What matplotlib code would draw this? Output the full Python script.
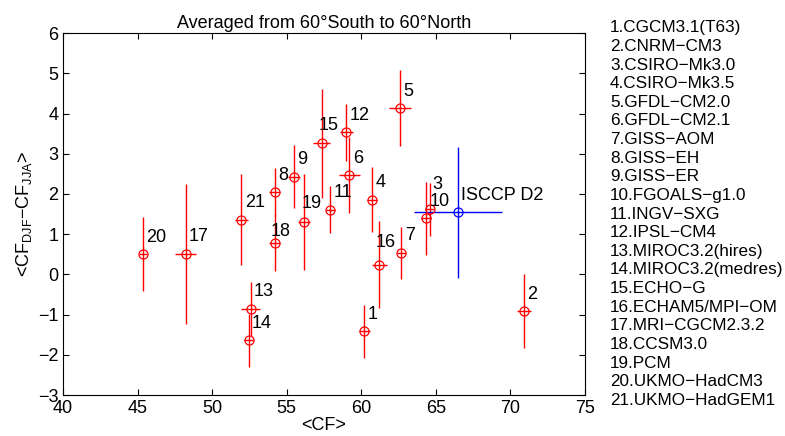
import matplotlib
matplotlib.use("Agg")
import matplotlib.pyplot as plt

plt.rcParams['font.family'] = ['Liberation Sans', 'DejaVu Sans']
plt.rcParams['mathtext.fontset'] = 'custom'
plt.rcParams['mathtext.rm'] = 'Liberation Sans'

# model values
model_ids = list(range(1, 22))
cf_mean = [60.21, 70.9, 64.59, 60.72, 62.6, 59.2, 62.69, 54.18, 55.48, 64.36, 57.93,
           59.0, 52.57, 52.44, 57.33, 61.19, 48.22, 54.18, 56.15, 45.36, 51.95]
cf_diff = [-1.41, -0.91, 1.62, 1.86, 4.14, 2.47, 0.54, 2.04, 2.43, 1.39, 1.61,
           3.53, -0.85, -1.64, 3.26, 0.24, 0.51, 0.79, 1.30, 0.50, 1.36]
cf_mean_err = [0.35, 0.47, 0.30, 0.31, 0.73, 0.72, 0.31, 0.39, 0.40, 0.33, 0.33,
               0.42, 0.61, 0.29, 0.58, 0.50, 0.69, 0.37, 0.40, 0.25, 0.42]
cf_diff_err = [0.66, 0.91, 0.66, 0.80, 0.94, 0.95, 0.65, 0.60, 0.78, 0.92, 0.59,
               0.70, 0.67, 0.66, 1.36, 1.08, 1.74, 0.70, 1.19, 0.92, 1.13]

# observations
obs_name = 'ISCCP D2'
obs_mean = 66.48
obs_diff = 1.54
obs_mean_err = 2.95
obs_diff_err = 1.62

model_names = ['CGCM3.1(T63)', 'CNRM−CM3', 'CSIRO−Mk3.0', 'CSIRO−Mk3.5', 'GFDL−CM2.0',
               'GFDL−CM2.1', 'GISS−AOM', 'GISS−EH', 'GISS−ER', 'FGOALS−g1.0', 'INGV−SXG',
               'IPSL−CM4', 'MIROC3.2(hires)', 'MIROC3.2(medres)', 'ECHO−G',
               'ECHAM5/MPI−OM', 'MRI−CGCM2.3.2', 'CCSM3.0', 'PCM', 'UKMO−HadCM3',
               'UKMO−HadGEM1']

fs = 13
fig = plt.figure(figsize=(7.85, 4.36), dpi=100)
ax = fig.add_axes([0.0803, 0.094, 0.665, 0.830])

ax.errorbar(cf_mean, cf_diff, xerr=cf_mean_err, yerr=cf_diff_err, fmt='o', color='red',
            mfc='none', ms=6.5, mew=0.9, elinewidth=1.0, capsize=0)
ax.errorbar([obs_mean], [obs_diff], xerr=[obs_mean_err], yerr=[obs_diff_err], fmt='o',
            color='blue', mfc='none', ms=6.5, mew=0.9, elinewidth=1.0, capsize=0)

# label offsets (data units); a few labels sit elsewhere
dx, dy = 0.23, 0.42
special = {3: (0.2, 0.62), 15: (-0.2, 0.45), 16: (-0.2, 0.55), 18: (-0.27, 0.27), 19: (-0.13, 0.47)}
for i, x, y in zip(model_ids, cf_mean, cf_diff):
    ox, oy = special.get(i, (dx, dy))
    ax.text(x + ox, y + oy, str(i), fontsize=fs, va='center', ha='left')
ax.text(obs_mean + dx, obs_diff + dy, obs_name, fontsize=fs, va='center', ha='left')

ax.set_xlim(40, 75)
ax.set_ylim(-3, 6)
ax.set_xticks(range(40, 76, 5))
ax.set_yticks(range(-3, 7))
ax.tick_params(direction='in', top=True, right=True, length=4.5, labelsize=fs, width=0.8)
for s in ax.spines.values():
    s.set_linewidth(0.8)
ax.set_xlabel('<CF>', fontsize=fs, labelpad=0)
ax.set_ylabel(r'<CF$_{\mathregular{DJF}}$−CF$_{\mathregular{JJA}}$>', fontsize=fs, labelpad=3)
ax.set_title('Averaged from 60°South to 60°North', fontsize=fs, pad=4)

for k, name in enumerate(model_names):
    fig.text(0.777, 0.936 - k * 0.0427, '{}.{}'.format(k + 1, name), fontsize=12.3,
             va='center', ha='left')

fig.savefig('out.png', dpi=100)
